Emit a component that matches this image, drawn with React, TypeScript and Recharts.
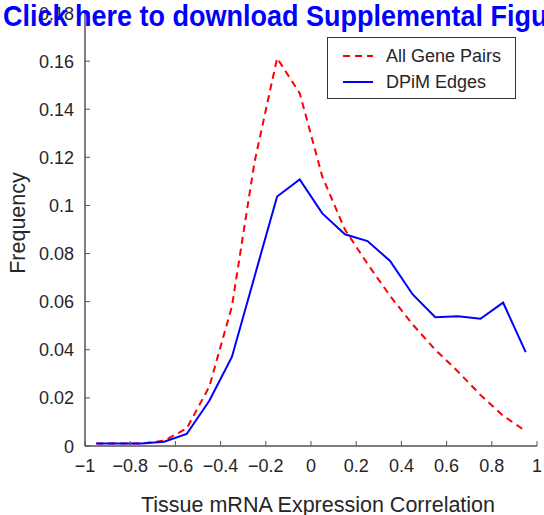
import React from 'react';
import { LineChart, Line, XAxis, YAxis, Legend } from 'recharts';

const binCenters = [-0.95, -0.85, -0.75, -0.65, -0.55, -0.45, -0.35, -0.25, -0.15, -0.05, 0.05, 0.15, 0.25, 0.35, 0.45, 0.55, 0.65, 0.75, 0.85, 0.95];
const allGenePairs = [0.001, 0.001, 0.001, 0.0022, 0.0073, 0.0247, 0.058, 0.118, 0.1612, 0.1467, 0.112, 0.09, 0.0757, 0.0624, 0.0505, 0.04, 0.031, 0.0212, 0.0126, 0.0062];
const dpimEdges = [0.001, 0.001, 0.001, 0.0018, 0.005, 0.0188, 0.037, 0.0704, 0.1037, 0.1108, 0.0967, 0.088, 0.0852, 0.0769, 0.063, 0.0535, 0.0539, 0.0529, 0.0596, 0.039];
const xTicks = [-1, -0.8, -0.6, -0.4, -0.2, 0, 0.2, 0.4, 0.6, 0.8, 1];
const yTicks = [0, 0.02, 0.04, 0.06, 0.08, 0.1, 0.12, 0.14, 0.16, 0.18];
const seriesNames = ['All Gene Pairs', 'DPiM Edges'];
const xLabel = 'Tissue mRNA Expression Correlation';
const yLabel = 'Frequency';
const titleText = 'Click here to download Supplemental Figure';

const data = binCenters.map((c, i) => ({ r: c, all: allGenePairs[i], dpim: dpimEdges[i] }));

const FONT = '"Liberation Sans", Arial, Helvetica, sans-serif';
const AXIS = '#555555';
const TEXT = '#262626';
const TICK = 5;

const fmtX = (v: number) => {
  const s = String(Number(Math.abs(v).toFixed(1)));
  return v < 0 ? '\u2212' + s : s;
};
const fmtY = (v: number) => String(Number(v.toFixed(2)));

const BottomTick = (props: any) => {
  const { x, y, payload } = props;
  return (
    <g>
      <line x1={x} x2={x} y1={y} y2={y - TICK} stroke={AXIS} strokeWidth={1} />
      <text x={x} y={y + 26} textAnchor="middle" fontSize={18} fontFamily={FONT} fill={TEXT}>
        {fmtX(payload.value)}
      </text>
    </g>
  );
};
const TopTick = (props: any) => {
  const { x, y } = props;
  return <line x1={x} x2={x} y1={y} y2={y + TICK} stroke={AXIS} strokeWidth={1} />;
};
const LeftTick = (props: any) => {
  const { x, y, payload } = props;
  return (
    <g>
      <line x1={x} x2={x + TICK} y1={y} y2={y} stroke={AXIS} strokeWidth={1} />
      <text x={x - 11} y={y + 6.5} textAnchor="end" fontSize={18} fontFamily={FONT} fill={TEXT}>
        {fmtY(payload.value)}
      </text>
    </g>
  );
};
const RightTick = (props: any) => {
  const { x, y } = props;
  return <line x1={x} x2={x - TICK} y1={y} y2={y} stroke={AXIS} strokeWidth={1} />;
};

const LegendBox = (props: any) => {
  const payload = props.payload || [];
  return (
    <div
      style={{
        width: 189,
        height: 62,
        border: '1px solid #333',
        background: '#fff',
        boxSizing: 'border-box',
        fontFamily: FONT,
        fontSize: 18,
        color: TEXT,
        paddingTop: 5,
      }}
    >
      {payload.map((p: any, i: number) => (
        <div key={i} style={{ display: 'flex', alignItems: 'center', height: 26 }}>
          <svg width={58} height={10} style={{ display: 'block' }}>
            <line
              x1={15}
              x2={45}
              y1={5}
              y2={5}
              stroke={p.color}
              strokeWidth={2}
              strokeDasharray={i === 0 ? '7 5' : undefined}
            />
          </svg>
          <span style={{ lineHeight: '18px' }}>{p.value}</span>
        </div>
      ))}
    </div>
  );
};

export default function App() {
  return (
    <div style={{ position: 'absolute', left: 0, top: 0, width: 544, height: 515, background: '#fff', overflow: 'hidden' }}>
      <LineChart width={544} height={515} data={data} margin={{ top: 13, right: 7, bottom: 0, left: 0 }}>
        <XAxis
          dataKey="r"
          type="number"
          domain={[-1, 1]}
          ticks={xTicks}
          allowDataOverflow
          height={69}
          tickLine={false}
          tickSize={0}
          tickMargin={0}
          axisLine={{ stroke: AXIS, strokeWidth: 1.5 }}
          tick={<BottomTick />}
          interval={0}
          label={{
            content: (p: any) => {
              const vb = p.viewBox || { x: 85, width: 452, y: 446 };
              return (
                <text x={vb.x + vb.width / 2 + 7} y={512} textAnchor="middle" fontSize={21.5} fontFamily={FONT} fill={TEXT}>
                  {xLabel}
                </text>
              );
            },
          }}
        />
        <XAxis
          xAxisId="top"
          orientation="top"
          type="number"
          domain={[-1, 1]}
          ticks={xTicks}
          allowDataOverflow
          height={0}
          tickLine={false}
          tickSize={0}
          tickMargin={0}
          axisLine={{ stroke: AXIS, strokeWidth: 1.5 }}
          tick={<TopTick />}
          interval={0}
        />
        <YAxis
          type="number"
          domain={[0, 0.18]}
          ticks={yTicks}
          allowDataOverflow
          width={85}
          tickLine={false}
          tickSize={0}
          tickMargin={0}
          axisLine={{ stroke: AXIS, strokeWidth: 1.5 }}
          tick={<LeftTick />}
          interval={0}
          label={{
            content: () => (
              <text
                x={25}
                y={223}
                transform="rotate(-90 25 223)"
                textAnchor="middle"
                fontSize={21.5}
                fontFamily={FONT}
                fill={TEXT}
              >
                {yLabel}
              </text>
            ),
          }}
        />
        <YAxis
          yAxisId="right"
          orientation="right"
          type="number"
          domain={[0, 0.18]}
          ticks={yTicks}
          allowDataOverflow
          width={0}
          tickLine={false}
          tickSize={0}
          tickMargin={0}
          axisLine={{ stroke: AXIS, strokeWidth: 1.5 }}
          tick={<RightTick />}
          interval={0}
        />
        <Legend
          layout="vertical"
          align="center"
          verticalAlign="middle"
          content={<LegendBox />}
          wrapperStyle={{ position: 'absolute', left: 327, top: 37, width: 189, height: 62 }}
        />
        <Line
          name={seriesNames[0]}
          dataKey="all"
          stroke="#ff0000"
          strokeWidth={2}
          strokeDasharray="7 5"
          dot={false}
          activeDot={false}
          isAnimationActive={false}
        />
        <Line
          name={seriesNames[1]}
          dataKey="dpim"
          stroke="#0000ff"
          strokeWidth={2}
          dot={false}
          activeDot={false}
          isAnimationActive={false}
        />
      </LineChart>
      <div
        style={{
          position: 'absolute',
          left: 3,
          top: 0,
          whiteSpace: 'nowrap',
          fontFamily: FONT,
          fontWeight: 'bold',
          fontSize: 27,
          lineHeight: '30px',
          color: '#0000ff',
          transform: 'scaleY(1.08)',
          transformOrigin: '0 0',
        }}
      >
        {titleText}
      </div>
    </div>
  );
}
